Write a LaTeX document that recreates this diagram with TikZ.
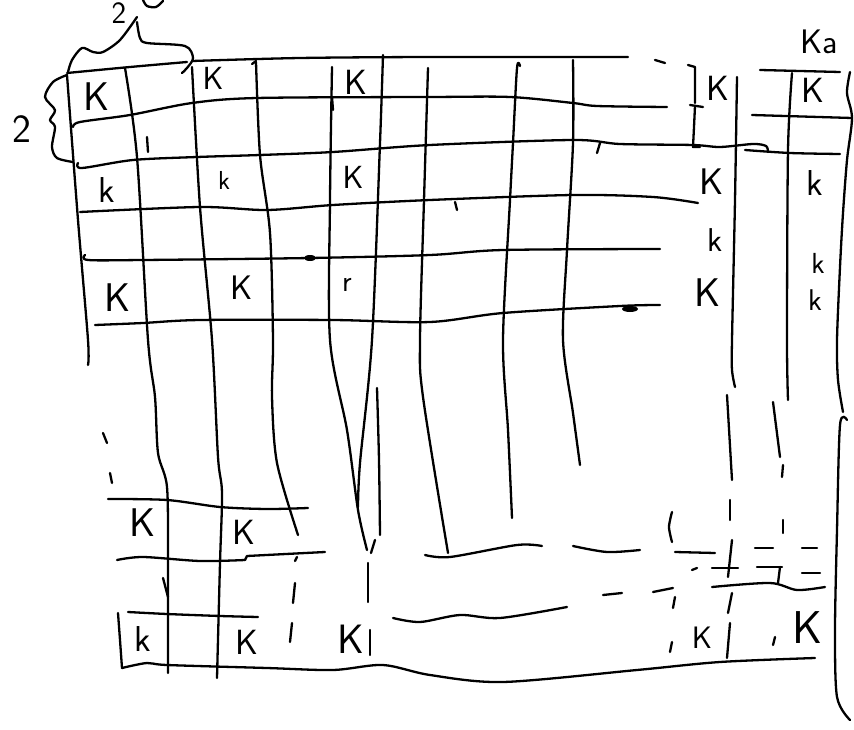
\documentclass[tikz,border=0pt]{standalone}
\begin{document}
\begin{tikzpicture}[x=1pt,y=-1pt,
  ink/.style={line width=2.3pt,line cap=round,line join=round},
  lbl/.style={font=\sffamily\fontsize{#1}{#1}\selectfont,inner sep=0pt},
  lbl/.default=34]
\useasboundingbox (0,0) rectangle (854,730);
\clip (0,0) rectangle (854,730);
\fill[white] (0,0) rectangle (854,730);

% ---- braces and labels "2"
\draw[ink] plot[smooth] coordinates {(68,72) (72,60) (82,48) (93,52) (103,52) (120,40) (137,17)};
\draw[ink] plot[smooth] coordinates {(137,22) (140,38) (147,43) (185,46) (193,58) (187,68) (182,73)};
\draw[ink] plot[smooth] coordinates {(67,75) (53,82) (45,97) (55,110) (50,120) (55,127) (52,147) (57,158) (73,162)};
\node[lbl=40] (twoL) at (22,129) {2};
\node[lbl=31] (twoT) at (119,13) {2};
\draw[ink] plot[smooth] coordinates {(143,0) (147,6) (156,7) (163,1)};

% ---- horizontal lines, upper grid
\draw[ink] plot[smooth] coordinates {(67,73) (130,67) (187,62)};
\draw[ink] plot[smooth] coordinates {(192,61) (300,58) (430,57) (628,57)};
\draw[ink] (655,60) -- (665,63);
\draw[ink] plot[smooth] coordinates {(73,127) (80,122) (130,115) (192,103) (257,98) (430,97) (510,97) (573,103) (597,106) (667,107)};
\draw[ink] plot[smooth] coordinates {(78,163) (82,168) (133,160) (197,157) (260,155) (333,152) (430,145) (573,140) (620,144) (693,145) (720,147) (753,144) (766,146) (768,152)};
\draw[ink] plot[smooth] coordinates {(745,150) (790,153) (840,154)};
\draw[ink] plot[smooth] coordinates {(80,212) (200,207) (267,210) (333,205) (430,200) (573,195) (653,197) (698,203)};
\draw[ink] plot[smooth] coordinates {(85,255) (88,260) (143,260) (310,258) (430,255) (503,250) (660,249)};
\draw[ink] plot[smooth] coordinates {(95,325) (143,323) (200,320) (333,320) (430,322) (503,313) (620,306) (660,305)};
\fill (310,258) ellipse (6 and 3);
\fill (630,309) ellipse (8 and 3);
\draw[ink] (455,202) -- (457,210);
\draw[ink] (600,143) -- (597,153);
\draw[ink] (147,137) -- (148,152);
\draw[ink] (332,97) -- (333,110);

% ---- vertical lines
\draw[ink] plot[smooth] coordinates {(67,75) (78,220) (88,340) (88,365)};
\draw[ink] plot[smooth] coordinates {(125,68) (137,157) (148,340) (155,397) (158,453) (167,487) (168,563) (168,673)};
\draw[ink] plot[smooth] coordinates {(192,67) (200,207) (212,340) (218,457) (222,493) (220,563) (217,678)};
\draw[ink] (252,64) -- (256,61);
\draw[ink] plot[smooth] coordinates {(256,62) (260,155) (270,233) (273,340) (272,397) (277,463) (298,535)};
\draw[ink] (297,557) -- (295,561);
\draw[ink] (295,583) -- (293,603);
\draw[ink] (292,623) -- (290,642);
\draw[ink] plot[smooth] coordinates {(332,67) (330,200) (330,340) (347,430) (358,510) (367,550)};
\draw[ink] (368,563) -- (368,602);
\draw[ink] plot[smooth] coordinates {(383,55) (380,143) (372,340) (360,463) (358,507)};
\draw[ink] plot[smooth] coordinates {(377,388) (379,460) (380,535)};
\draw[ink] (375,540) -- (371,553);
\draw[ink] plot[smooth] coordinates {(428,68) (424,200) (420,340) (423,397) (448,553)};
\draw[ink] plot[smooth] coordinates {(520,66) (517,68) (513,143) (510,200) (503,340) (508,430) (512,518)};
\draw[ink] plot[smooth] coordinates {(573,60) (573,143) (567,250) (563,340) (573,413) (580,465)};

% ---- right block
\draw[ink] (688,65) -- (695,67) -- (695,103);
\draw[ink] (690,105) -- (703,107);
\draw[ink] (695,106) -- (694,127) -- (693,147) -- (700,147);
\draw[ink] plot[smooth] coordinates {(737,77) (735,200) (732,340) (732,370) (735,387)};
\draw[ink] (727,395) -- (732,480);
\draw[ink] (730,500) -- (730,520);
\draw[ink] (732,540) -- (728,577);
\draw[ink] (732,593) -- (728,613);
\draw[ink] (730,623) -- (727,658);
\draw[ink] (760,70) -- (840,72);
\draw[ink] plot[smooth] coordinates {(792,73) (788,150) (787,340) (788,400)};
\draw[ink] (773,402) -- (780,457);
\draw[ink] (783,465) -- (782,477);
\draw[ink] (783,520) -- (783,533);
\draw[ink] plot[smooth] coordinates {(850,72) (847,93) (852,118) (847,160) (843,213) (840,267) (837,340) (838,380) (843,412)};
\draw[ink] plot[smooth] coordinates {(847,420) (840,425) (837,530) (835,630) (837,697) (850,720)};
\draw[ink] (752,115) -- (852,118);
\node[lbl=34,anchor=west] (ka) at (800,42) {Ka};

% ---- lower grid
\draw[ink] (103,433) -- (107,443);
\draw[ink] (110,473) -- (112,483);
\draw[ink] plot[smooth] coordinates {(108,499) (167,500) (220,507) (267,509) (308,508)};
\draw[ink] plot[smooth] coordinates {(117,560) (143,557) (200,561) (245,560)};
\draw[ink] (245,560) -- (247,556) -- (325,552);
\draw[ink] (163,578) -- (168,597);
\draw[ink] plot[smooth] coordinates {(128,612) (167,614) (220,616) (258,617)};
\draw[ink] plot[smooth] coordinates {(393,618) (420,622) (460,615) (500,618) (567,607)};
\draw[ink] (118,613) -- (120,640) -- (122,668);
\draw[ink] plot[smooth] coordinates {(122,668) (147,663) (167,665) (267,668) (333,670) (383,665) (430,675) (503,682) (637,670) (720,662) (815,658)};
\draw[ink] plot[smooth] coordinates {(425,555) (450,557) (517,545) (542,546)};
\draw[ink] plot[smooth] coordinates {(573,546) (607,552) (640,550)};
\draw[ink] (675,552) -- (715,553);
\draw[ink] plot[smooth] coordinates {(672,512) (669,527) (672,542)};
\draw[ink] (755,548) -- (773,548);
\draw[ink] (802,548) -- (817,548);
\draw[ink] (692,570) -- (697,568);
\draw[ink] (712,568) -- (738,568);
\draw[ink] (757,567) -- (782,567);
\draw[ink] (780,567) -- (778,583);
\draw[ink] (802,573) -- (820,573);
\draw[ink] plot[smooth] coordinates {(712,587) (770,583) (797,590) (825,587)};
\draw[ink] (603,595) -- (622,593);
\draw[ink] (653,592) -- (673,588);
\draw[ink] (675,597) -- (673,608);
\draw[ink] (672,642) -- (670,652);
\draw[ink] (775,637) -- (773,645);
\draw[ink] (370,630) -- (370,655);

% ---- letters
\node[lbl=40] (k1) at (97,97) {K};
\node[lbl=32] (k2) at (213,78) {K};
\node[lbl=35] (k3) at (356,82) {K};
\node[lbl=35] (k4) at (718,88) {K};
\node[lbl=35] (k5) at (813,90) {K};
\node[lbl=36] (k6) at (107,190) {k};
\node[lbl=26] (k7) at (224,180) {k};
\node[lbl=32] (k8) at (353,177) {K};
\node[lbl=37] (k9) at (712,182) {K};
\node[lbl=36] (k10) at (815,183) {k};
\node[lbl=33] (k11) at (715,240) {k};
\node[lbl=40] (k12) at (118,298) {K};
\node[lbl=34] (k13) at (242,288) {K};
\node[lbl=30] (r1) at (347,285) {r};
\node[lbl=40] (k14) at (708,293) {K};
\node[lbl=29] (k15) at (818,263) {k};
\node[lbl=30] (k16) at (815,300) {k};
\node[lbl=40] (k17) at (143,523) {K};
\node[lbl=35] (k18) at (244,532) {K};
\node[lbl=36] (k19) at (143,639) {k};
\node[lbl=35] (k20) at (247,642) {K};
\node[lbl=41] (k21) at (351,639) {K};
\node[lbl=31] (k22) at (702,638) {K};
\node[lbl=46] (k23) at (807,628) {K};
\end{tikzpicture}
\end{document}
